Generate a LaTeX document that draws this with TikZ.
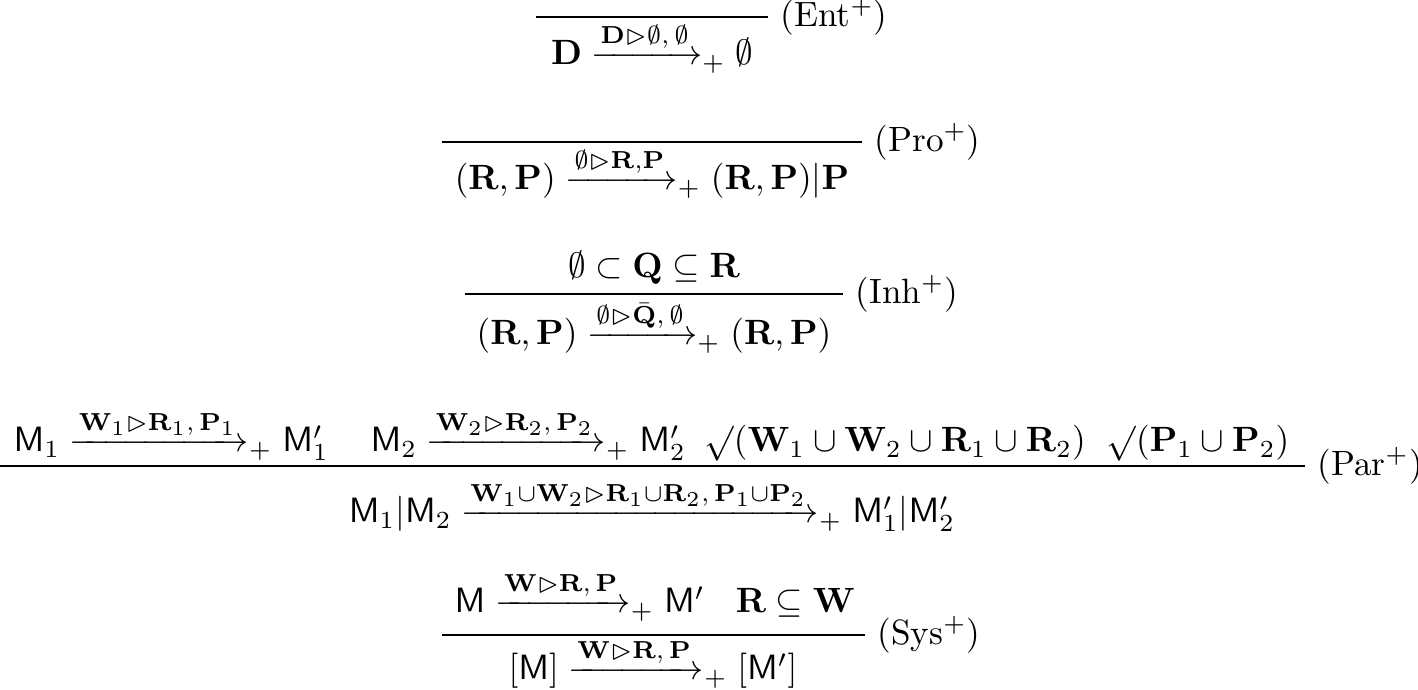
\documentclass[tikz,border=0pt]{standalone}
\usepackage{amsmath}
\usepackage{amssymb}
\usetikzlibrary{positioning}

\DeclareMathSizes{10}{10}{7}{6}
\newcommand{\trans}[1]{\xrightarrow{#1}_{+}}
\newcommand{\mach}{\mathsf{M}}

\begin{document}
\begin{tikzpicture}[
				x=0.1mm, y=-0.1mm,
				node distance=1.2mm,
				judg/.style={anchor=base, inner sep=0pt},
				rulebar/.style={line width=0.6pt},
				rulename/.style={anchor=west, inner sep=0pt},
			]
				\useasboundingbox (0,0) rectangle (1418,690);

				% Ent
				\coordinate (entL) at (536,17);
				\coordinate (entR) at (768,17);
				\draw[rulebar] (entL) -- (entR);
				\node[rulename, right=of entR] (entName) {(Ent$^+$)};
				\node[judg] (entConc) at (652,65) {$\mathbf{D} \trans{\mathbf{D} \rhd \emptyset ,\, \emptyset} \emptyset$};

				% Pro
				\coordinate (proL) at (442,142);
				\coordinate (proR) at (862,142);
				\draw[rulebar] (proL) -- (proR);
				\node[rulename, right=of proR] (proName) {(Pro$^+$)};
				\node[judg] (proConc) at (652,190) {$(\mathbf{R}, \mathbf{P}) \trans{\emptyset \rhd \mathbf{R}, \mathbf{P}} (\mathbf{R}, \mathbf{P}) | \mathbf{P}$};

				% Inh
				\node[judg] (inhPrem) at (654,278) {$\emptyset \subset \mathbf{Q} \subseteq \mathbf{R}$};
				\coordinate (inhL) at (465,294);
				\coordinate (inhR) at (843,294);
				\draw[rulebar] (inhL) -- (inhR);
				\node[rulename, right=of inhR] (inhName) {(Inh$^+$)};
				\node[judg] (inhConc) at (654,345) {$(\mathbf{R}, \mathbf{P}) \trans{\emptyset \rhd \bar{\mathbf{Q}} ,\, \emptyset} (\mathbf{R}, \mathbf{P})$};

				% Par
				\node[judg, anchor=base west] (parPremA) at (13,452) {$\mach_1 \trans{\mathbf{W}_1 \rhd \mathbf{R}_1 ,\, \mathbf{P}_1} \mach_1'$};
				\node[judg, anchor=base west] (parPremB) at (370,452) {$\mach_2 \trans{\mathbf{W}_2 \rhd \mathbf{R}_2 ,\, \mathbf{P}_2} \mach_2'$};
				\node[judg, anchor=base west] (parPremC) at (704,452) {$\surd(\mathbf{W}_1 \cup \mathbf{W}_2 \cup \mathbf{R}_1 \cup \mathbf{R}_2)$};
				\node[judg, anchor=base east] (parPremD) at (1290,452) {$\surd(\mathbf{P}_1 \cup \mathbf{P}_2)$};
				\coordinate (parL) at (0,466);
				\coordinate (parR) at (1305,466);
				\draw[rulebar] (parL) -- (parR);
				\node[rulename, right=of parR] (parName) {(Par$^+$)};
				\node[judg] (parConc) at (652,523) {$\mach_1 | \mach_2 \trans{\mathbf{W}_1 \cup \mathbf{W}_2 \rhd \mathbf{R}_1 \cup \mathbf{R}_2 ,\, \mathbf{P}_1 \cup \mathbf{P}_2} \mach_1' | \mach_2'$};

				% Sys
				\node[judg, anchor=base west] (sysPremA) at (454,613) {$\mach \trans{\mathbf{W} \rhd \mathbf{R} ,\, \mathbf{P}} \mach'$};
				\node[judg, anchor=base east] (sysPremB) at (856,613) {$\mathbf{R} \subseteq \mathbf{W}$};
				\coordinate (sysL) at (442,635);
				\coordinate (sysR) at (865,635);
				\draw[rulebar] (sysL) -- (sysR);
				\node[rulename, right=of sysR] (sysName) {(Sys$^+$)};
				\node[judg] (sysConc) at (653,680) {$[\mach] \trans{\mathbf{W} \rhd \mathbf{R} ,\, \mathbf{P}} [\mach']$};
			\end{tikzpicture}
\end{document}
